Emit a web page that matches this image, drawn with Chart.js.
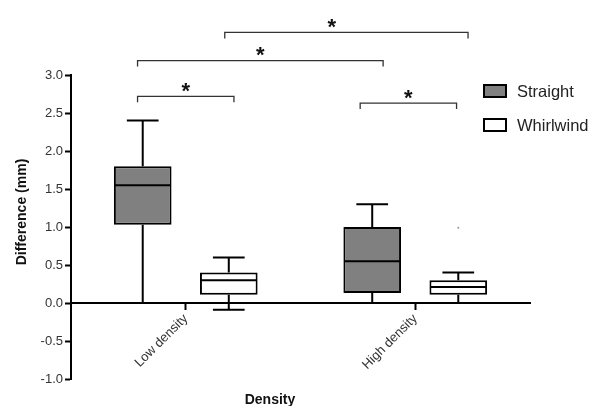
<!DOCTYPE html>
<html>
<head>
<meta charset="utf-8">
<script src="https://cdn.jsdelivr.net/npm/chart.js@4.4.0/dist/chart.umd.min.js"></script>
<style>
  html, body { margin: 0; padding: 0; background: #fff; }
  #wrap { width: 589px; height: 406px; }
</style>
</head>
<body>
<div id="wrap"><canvas id="boxChart" width="589" height="406"></canvas></div>
<script>
// Categories and box-plot summaries (mm)
const categories = ['Low density', 'High density'];
const seriesNames = ['Straight', 'Whirlwind'];

const straightMin = [0.0, 0.0];
const straightQ1 = [1.03, 0.13];
const straightMedian = [1.55, 0.55];
const straightQ3 = [1.8, 1.0];
const straightMax = [2.4, 1.3];

const whirlwindMin = [-0.09, 0.0];
const whirlwindQ1 = [0.11, 0.11];
const whirlwindMedian = [0.3, 0.21];
const whirlwindQ3 = [0.4, 0.3];
const whirlwindMax = [0.6, 0.4];
const whirlwindOutliers = [null, 0.99];

// y axis tick values
const yTicks = [-1.0, -0.5, 0.0, 0.5, 1.0, 1.5, 2.0, 2.5, 3.0];

// Significance brackets: ends in category units, level in mm
const bracketFrom = [-0.21, -0.21, 0.17, 0.76];
const bracketTo = [0.21, 0.86, 1.23, 1.18];
const bracketLevel = [2.72, 3.19, 3.56, 2.63];
const bracketStarAt = [0.5, 0.5, 0.44, 0.5];
const bracketMark = ['*', '*', '*', '*'];

const boxStats = [
  { min: straightMin, q1: straightQ1, med: straightMedian, q3: straightQ3, max: straightMax, out: [null, null] },
  { min: whirlwindMin, q1: whirlwindQ1, med: whirlwindMedian, q3: whirlwindQ3, max: whirlwindMax, out: whirlwindOutliers }
];
const fills = ['#808080', '#ffffff'];

Chart.defaults.font.family = '"Liberation Sans", Arial, sans-serif';

// Whiskers, medians, brackets, legend and axis titles
const boxPlotPlugin = {
  id: 'boxPlot',
  beforeDatasetsDraw(chart) {
    const { ctx } = chart;
    const y = chart.scales.y;
    ctx.save();
    ctx.strokeStyle = '#000';
    ctx.lineWidth = 2;
    boxStats.forEach((s, d) => {
      chart.getDatasetMeta(d).data.forEach((bar, i) => {
        const x = bar.x;
        const half = bar.width * 0.55 / 2;
        const yMax = y.getPixelForValue(s.max[i]);
        const yMin = y.getPixelForValue(s.min[i]);
        ctx.beginPath();
        ctx.moveTo(x, y.getPixelForValue(s.q3[i]));
        ctx.lineTo(x, yMax);
        ctx.moveTo(x - half, yMax);
        ctx.lineTo(x + half, yMax);
        ctx.moveTo(x, y.getPixelForValue(s.q1[i]));
        ctx.lineTo(x, yMin);
        ctx.moveTo(x - half, yMin);
        ctx.lineTo(x + half, yMin);
        ctx.stroke();
      });
    });
    ctx.restore();
  },
  afterDatasetsDraw(chart) {
    const { ctx, chartArea } = chart;
    const x = chart.scales.x;
    const y = chart.scales.y;
    ctx.save();

    // medians and outliers
    boxStats.forEach((s, d) => {
      chart.getDatasetMeta(d).data.forEach((bar, i) => {
        const ym = y.getPixelForValue(s.med[i]);
        ctx.strokeStyle = '#000';
        ctx.lineWidth = 2;
        ctx.beginPath();
        ctx.moveTo(bar.x - bar.width / 2 + 1, ym);
        ctx.lineTo(bar.x + bar.width / 2 - 1, ym);
        ctx.stroke();
        if (s.out[i] !== null) {
          ctx.fillStyle = '#999';
          ctx.beginPath();
          ctx.arc(bar.x, y.getPixelForValue(s.out[i]), 1, 0, Math.PI * 2);
          ctx.fill();
        }
      });
    });

    // significance brackets
    ctx.strokeStyle = '#333';
    ctx.lineWidth = 1.3;
    ctx.fillStyle = '#111';
    ctx.font = 'bold 22px "Liberation Sans", Arial, sans-serif';
    ctx.textAlign = 'center';
    ctx.textBaseline = 'alphabetic';
    bracketLevel.forEach((lvl, k) => {
      const x1 = x.getPixelForValue(bracketFrom[k]);
      const x2 = x.getPixelForValue(bracketTo[k]);
      const yb = y.getPixelForValue(lvl);
      ctx.beginPath();
      ctx.moveTo(x1, yb + 6);
      ctx.lineTo(x1, yb);
      ctx.lineTo(x2, yb);
      ctx.lineTo(x2, yb + 6);
      ctx.stroke();
      ctx.fillText(bracketMark[k], x1 + (x2 - x1) * bracketStarAt[k], yb + 1.5);
    });

    // legend
    ctx.font = '16.5px "Liberation Sans", Arial, sans-serif';
    ctx.textAlign = 'left';
    ctx.lineWidth = 2;
    ctx.strokeStyle = '#000';
    seriesNames.forEach((name, k) => {
      const bx = chartArea.right - 46;
      const by = chartArea.top + 10 + k * 34;
      ctx.fillStyle = fills[k];
      ctx.fillRect(bx, by, 22, 12);
      ctx.strokeRect(bx, by, 22, 12);
      ctx.fillStyle = '#222';
      ctx.fillText(name, bx + 33, by + 12);
    });

    // axis titles
    ctx.fillStyle = '#111';
    ctx.font = 'bold 14px "Liberation Sans", Arial, sans-serif';
    ctx.textAlign = 'center';
    ctx.fillText('Density', 270, 404);
    ctx.translate(26, 212);
    ctx.rotate(-Math.PI / 2);
    ctx.fillText('Difference (mm)', 0, 0);
    ctx.restore();
  }
};

new Chart(document.getElementById('boxChart'), {
  type: 'bar',
  data: {
    labels: categories,
    datasets: seriesNames.map((name, d) => ({
      label: name,
      data: categories.map((c, i) => [boxStats[d].q1[i], boxStats[d].q3[i]]),
      backgroundColor: fills[d],
      borderColor: '#000',
      borderWidth: 2,
      borderSkipped: false,
      barPercentage: 0.67,
      categoryPercentage: 0.75
    }))
  },
  options: {
    responsive: false,
    animation: false,
    layout: { padding: { top: 75, right: 59, bottom: 27, left: 0 } },
    plugins: {
      legend: { display: false },
      tooltip: { enabled: false }
    },
    scales: {
      x: {
        position: { y: 0 },
        offset: true,
        grid: { drawOnChartArea: false, offset: false, tickLength: 6, tickWidth: 2, tickColor: '#000' },
        border: { color: '#000', width: 2 },
        ticks: { minRotation: 45, maxRotation: 45, color: '#333', font: { size: 13 }, padding: 2 }
      },
      y: {
        min: -1,
        max: 3,
        afterFit: (scale) => { scale.width = 71; },
        afterBuildTicks: (scale) => { scale.ticks = yTicks.map(v => ({ value: v })); },
        grid: { drawOnChartArea: false, tickLength: 6, tickWidth: 2, tickColor: '#000' },
        border: { color: '#000', width: 2 },
        ticks: {
          color: '#333',
          font: { size: 13 },
          padding: 2,
          callback: (v) => Number(v).toFixed(1)
        }
      }
    }
  },
  plugins: [boxPlotPlugin]
});
</script>
</body>
</html>
